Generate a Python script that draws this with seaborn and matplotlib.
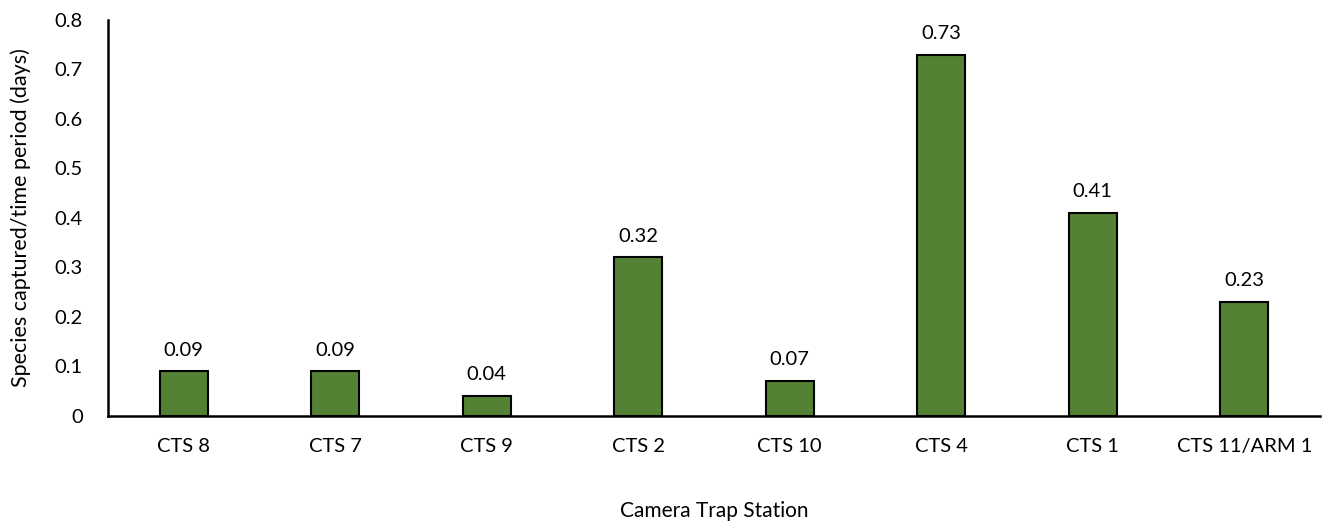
import matplotlib
matplotlib.use("Agg")
import matplotlib.pyplot as plt
import seaborn as sns
import pandas as pd

stations = ["CTS 8", "CTS 7", "CTS 9", "CTS 2", "CTS 10", "CTS 4", "CTS 1", "CTS 11/ARM 1"]
rates = [0.09, 0.09, 0.04, 0.32, 0.07, 0.73, 0.41, 0.23]
y_ticks = [0, 0.1, 0.2, 0.3, 0.4, 0.5, 0.6, 0.7, 0.8]
y_tick_labels = ["0", "0.1", "0.2", "0.3", "0.4", "0.5", "0.6", "0.7", "0.8"]

sns.set_theme(style="white")
plt.rcParams["font.family"] = ["Lato", "DejaVu Sans"]

df = pd.DataFrame({"station": stations, "rate": rates})

fig = plt.figure(figsize=(13.28, 5.24), dpi=100)
ax = fig.add_axes([0.0813, 0.207, 0.9127, 0.755])

sns.barplot(data=df, x="station", y="rate", color="#548235", saturation=1,
            width=0.316, edgecolor="black", linewidth=1.5, ax=ax)

for patch, val in zip(ax.patches, rates):
    ax.annotate(f"{val:.2f}", (patch.get_x() + patch.get_width() / 2, patch.get_height()),
                xytext=(0, 9), textcoords="offset points", ha="center", va="bottom",
                fontsize=14.5, color="black")

ax.set_xlim(-0.5, len(stations) - 0.5)
ax.set_ylim(0, 0.8)
ax.set_yticks(y_ticks)
ax.set_yticklabels(y_tick_labels)
ax.tick_params(axis="y", length=0, pad=18, labelsize=14.5, labelcolor="black")
ax.tick_params(axis="x", length=0, pad=16, labelsize=14.5, labelcolor="black")

for side in ["top", "right"]:
    ax.spines[side].set_visible(False)
for side in ["left", "bottom"]:
    ax.spines[side].set_color("black")
    ax.spines[side].set_linewidth(1.8)

ax.set_xlabel("Camera Trap Station", fontsize=15, color="black", labelpad=33)
ax.set_ylabel("Species captured/time period (days)", fontsize=15.5, color="black", labelpad=17)

fig.savefig("out.png", dpi=100)
